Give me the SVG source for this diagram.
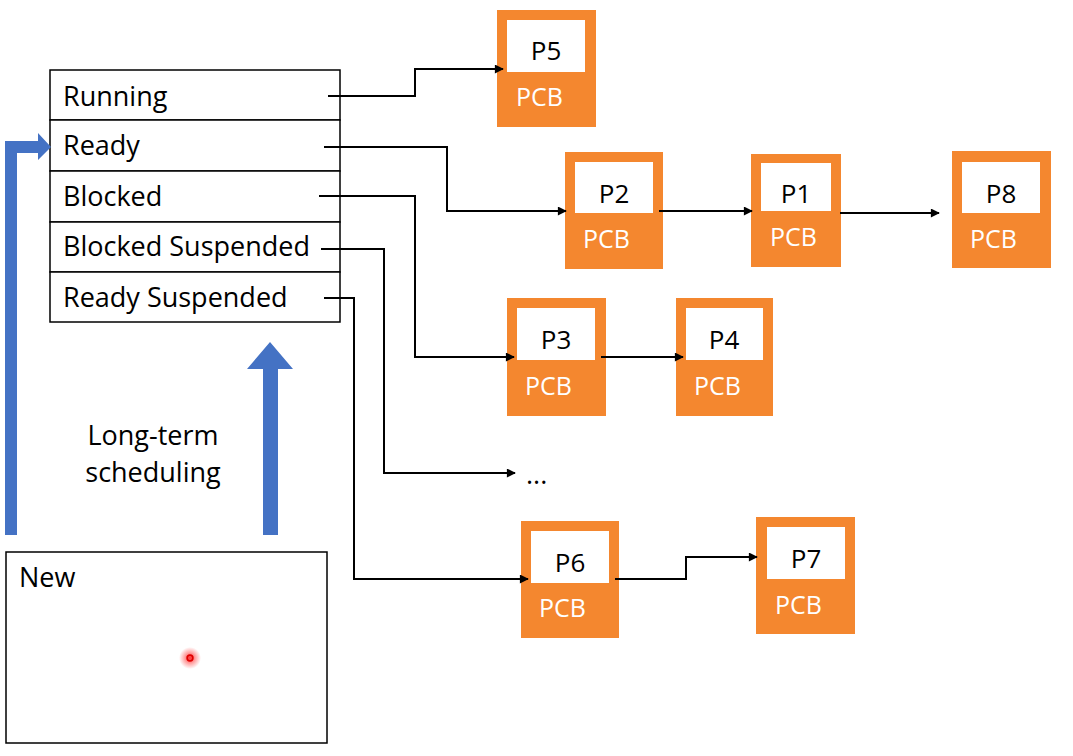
<svg xmlns="http://www.w3.org/2000/svg" width="1073" height="756" viewBox="0 0 1073 756">
<style>
text{font-family:"Open Sans","Liberation Sans",sans-serif;font-size:27px;fill:#000}
.row{fill:#fff;stroke:#000;stroke-width:1.5}
.pcb{fill:#F4872F}
.win{fill:#fff}
.pl{font-size:26px;text-anchor:middle}
.pt{font-size:25px;fill:#fff}
.con{fill:none;stroke:#000;stroke-width:2;marker-end:url(#ah)}
.blue{fill:#4472C4}
</style>
<defs>
<marker id="ah" viewBox="0 0 10 10" refX="9" refY="5" markerWidth="10" markerHeight="9" markerUnits="userSpaceOnUse" orient="auto">
<path d="M0,0 L10,5 L0,10 z" fill="#000"/>
</marker>
<radialGradient id="glow">
<stop offset="0" stop-color="#ff1010" stop-opacity="0.85"/>
<stop offset="0.5" stop-color="#ff2020" stop-opacity="0.4"/>
<stop offset="1" stop-color="#ff2020" stop-opacity="0"/>
</radialGradient>
</defs>
<rect width="1073" height="756" fill="#fff"/>

<g id="queue">
<rect class="row" x="50" y="70" width="290" height="50"/>
<rect class="row" x="50" y="120" width="290" height="51"/>
<rect class="row" x="50" y="171" width="290" height="51"/>
<rect class="row" x="50" y="222" width="290" height="50"/>
<rect class="row" x="50" y="272" width="290" height="50"/>
<text x="63" y="106">Running</text>
<text x="63" y="155">Ready</text>
<text x="63" y="206">Blocked</text>
<text x="63" y="256">Blocked Suspended</text>
<text x="63" y="307">Ready Suspended</text>
</g>

<g id="new">
<rect x="6" y="552" width="321" height="191" fill="#fff" stroke="#000" stroke-width="1.5"/>
<text x="19" y="587">New</text>
</g>

<g id="cursor">
<circle cx="190" cy="658" r="11" fill="url(#glow)"/>
<circle cx="190" cy="658" r="2.8" fill="none" stroke="#e00000" stroke-width="1.8"/>
</g>

<g id="arrows-blue">
<polygon class="blue" points="5,535 5,141 38,141 38,133 51,147 38,160 38,153 17,153 17,535"/>
<polygon class="blue" points="263,535 263,369 247,369 270,342 293,369 278,369 278,535"/>
<text x="153" y="445" text-anchor="middle">Long-term</text>
<text x="153" y="482" text-anchor="middle">scheduling</text>
</g>

<g id="P5">
<rect class="pcb" x="497" y="10" width="99" height="117"/>
<rect class="win" x="507" y="20" width="78" height="52"/>
<text class="pl" x="546" y="60">P5</text>
<text class="pt" x="516" y="106">PCB</text>
</g>
<g id="P2">
<rect class="pcb" x="565" y="152" width="98" height="117"/>
<rect class="win" x="575" y="162" width="78" height="51"/>
<text class="pl" x="614" y="203">P2</text>
<text class="pt" x="583" y="248">PCB</text>
</g>
<g id="P1">
<rect class="pcb" x="751" y="154" width="90" height="113"/>
<rect class="win" x="761" y="163" width="70" height="48"/>
<text class="pl" x="796" y="203">P1</text>
<text class="pt" x="770" y="246">PCB</text>
</g>
<g id="P8">
<rect class="pcb" x="952" y="151" width="99" height="117"/>
<rect class="win" x="962" y="162" width="78" height="51"/>
<text class="pl" x="1001" y="203">P8</text>
<text class="pt" x="970" y="248">PCB</text>
</g>
<g id="P3">
<rect class="pcb" x="507" y="298" width="99" height="118"/>
<rect class="win" x="517" y="308" width="78" height="52"/>
<text class="pl" x="556" y="349">P3</text>
<text class="pt" x="525" y="395">PCB</text>
</g>
<g id="P4">
<rect class="pcb" x="676" y="298" width="97" height="118"/>
<rect class="win" x="686" y="308" width="77" height="52"/>
<text class="pl" x="724" y="349">P4</text>
<text class="pt" x="694" y="395">PCB</text>
</g>
<g id="P6">
<rect class="pcb" x="521" y="521" width="98" height="117"/>
<rect class="win" x="531" y="531" width="78" height="52"/>
<text class="pl" x="570" y="572">P6</text>
<text class="pt" x="539" y="617">PCB</text>
</g>
<g id="P7">
<rect class="pcb" x="756" y="517" width="99" height="117"/>
<rect class="win" x="767" y="527" width="78" height="52"/>
<text class="pl" x="806" y="568">P7</text>
<text class="pt" x="775" y="614">PCB</text>
</g>
<g id="ellipsis">
<text x="526" y="484">...</text>
</g>

<g id="connectors">
<polyline class="con" points="328,96 415,96 415,69 503,69"/>
<polyline class="con" points="324,147 447,147 447,211 566,211"/>
<polyline class="con" points="319,196 415,196 415,357 514,357"/>
<polyline class="con" points="321,249 384,249 384,473 515,473"/>
<polyline class="con" points="324,298 354,298 354,579 528,579"/>
<polyline class="con" points="659,211 752,211"/>
<polyline class="con" points="840,213 939,213"/>
<polyline class="con" points="601,357 683,357"/>
<polyline class="con" points="615,579 686,579 686,557 757,557"/>
</g>
</svg>
